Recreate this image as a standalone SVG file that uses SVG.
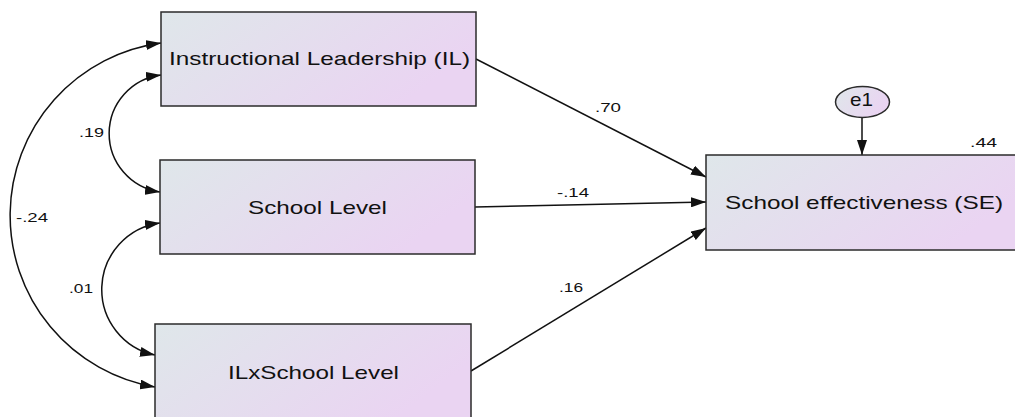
<svg xmlns="http://www.w3.org/2000/svg" width="1015" height="417" viewBox="0 0 1015 417">
<style>
.box{stroke:#2b2b2b;stroke-width:1.5;fill:url(#g)}
.lbl{font-family:"Liberation Sans",Arial,sans-serif;font-size:19px;fill:#111}
.num{font-family:"Liberation Sans",Arial,sans-serif;font-size:13.5px;fill:#111}
.con{stroke:#111;stroke-width:1.5;fill:none}
</style>
<defs>
<linearGradient id="g" x1="0" y1="0" x2="1" y2="0.4">
<stop offset="0" stop-color="#dfe7ea"/>
<stop offset="1" stop-color="#ead4f2"/>
</linearGradient>
<marker id="ah" viewBox="0 0 15 10" refX="15" refY="5" markerWidth="15" markerHeight="10" markerUnits="userSpaceOnUse" orient="auto-start-reverse">
<path d="M0,0 L15,5 L0,10 Z" fill="#111"/>
</marker>
</defs>
<g id="connectors">
<path class="con" d="M476,59 L706,177" marker-end="url(#ah)"/>
<path class="con" d="M475,207 L706,202" marker-end="url(#ah)"/>
<path class="con" d="M471,371 L706,228" marker-end="url(#ah)"/>
<path class="con" d="M862,117 L862,155" marker-end="url(#ah)"/>
<path class="con" d="M161,75 A59,59 0 0 0 160,192" marker-start="url(#ah)" marker-end="url(#ah)"/>
<path class="con" d="M161,43 A174,174 0 0 0 155,387" marker-start="url(#ah)" marker-end="url(#ah)"/>
<path class="con" d="M160,223 A67,67 0 0 0 155,355" marker-start="url(#ah)" marker-end="url(#ah)"/>
<text class="num" x="595" y="112" textLength="26" lengthAdjust="spacingAndGlyphs">.70</text>
<text class="num" x="557" y="197" textLength="32" lengthAdjust="spacingAndGlyphs">-.14</text>
<text class="num" x="559" y="292" textLength="24" lengthAdjust="spacingAndGlyphs">.16</text>
<text class="num" x="79" y="137" textLength="25" lengthAdjust="spacingAndGlyphs">.19</text>
<text class="num" x="16" y="222" textLength="32" lengthAdjust="spacingAndGlyphs">-.24</text>
<text class="num" x="69" y="293" textLength="24" lengthAdjust="spacingAndGlyphs">.01</text>
</g>
<g id="IL">
<rect class="box" x="161" y="12" width="315" height="94"/>
<text class="lbl" x="169" y="65" textLength="301" lengthAdjust="spacingAndGlyphs">Instructional Leadership (IL)</text>
</g>
<g id="SL">
<rect class="box" x="160" y="160" width="315" height="94"/>
<text class="lbl" x="248" y="214" textLength="139" lengthAdjust="spacingAndGlyphs">School Level</text>
</g>
<g id="ILxSL">
<rect class="box" x="155" y="324" width="316" height="96"/>
<text class="lbl" x="228" y="379" textLength="171" lengthAdjust="spacingAndGlyphs">ILxSchool Level</text>
</g>
<g id="SE">
<rect class="box" x="706" y="155" width="318" height="95"/>
<text class="lbl" x="725" y="208.5" textLength="278" lengthAdjust="spacingAndGlyphs">School effectiveness (SE)</text>
<text class="num" x="970" y="147" textLength="27" lengthAdjust="spacingAndGlyphs">.44</text>
</g>
<g id="e1">
<ellipse class="box" cx="862.5" cy="102" rx="27" ry="15.5"/>
<text class="lbl" x="850" y="106" font-size="17" textLength="23" lengthAdjust="spacingAndGlyphs">e1</text>
</g>
</svg>
